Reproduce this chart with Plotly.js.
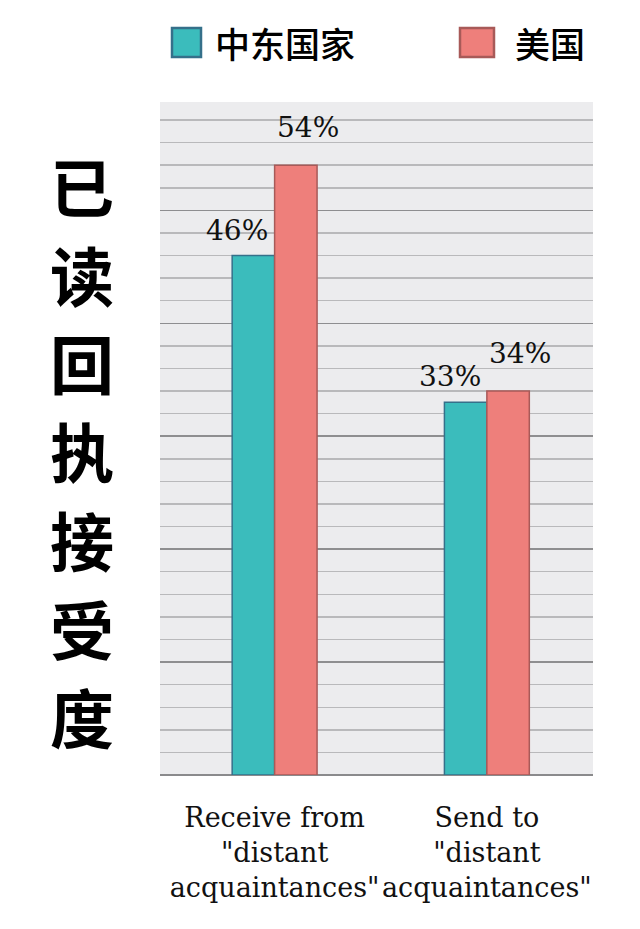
<!DOCTYPE html>
<html>
<head>
<meta charset="utf-8">
<script src="https://cdn.plot.ly/plotly-3.0.1.min.js"></script>
<style>
  html, body { margin: 0; padding: 0; background: #fff; }
  #chart { width: 640px; height: 929px; }
</style>
</head>
<body>
<div id="chart"></div>
<script>
// chart data
const categories = ['Receive from<br>"distant<br>acquaintances"', 'Send to<br>"distant<br>acquaintances"'];
const seriesNames = ['中东国家', '美国'];
const middleEast = [46, 33];
const usa = [54, 34];
const yTitle = ['已', '读', '回', '执', '接', '受', '度'];

const colors = ['#3bbcbc', '#ee7f7b'];
const borders = ['#35708a', '#a85a58'];

// plot box in pixels, used to place legend / title pieces in paper coords
const W = 640, H = 929;
const M = { l: 160, r: 47, t: 102, b: 154 };
const pw = W - M.l - M.r, ph = H - M.t - M.b;
const px = x => (x - M.l) / pw;
const py = y => (H - M.b - y) / ph;

const traces = [
  {
    x: [0, 1], y: middleEast, type: 'bar', name: seriesNames[0],
    marker: { color: colors[0], line: { color: borders[0], width: 1.5 } },
    hoverinfo: 'skip'
  },
  {
    x: [0, 1], y: usa, type: 'bar', name: seriesNames[1],
    marker: { color: colors[1], line: { color: borders[1], width: 1.5 } },
    hoverinfo: 'skip'
  }
];

const labelFont = { family: 'DejaVu Serif, serif', size: 28, color: '#111' };
const annotations = [];
[middleEast, usa].forEach((vals, s) => {
  vals.forEach((v, i) => {
    annotations.push({
      x: i + (s === 0 ? -0.1 : 0.1), y: v, xref: 'x', yref: 'y',
      text: v + '%', showarrow: false, yanchor: 'bottom',
      xshift: s === 0 ? -16 : 12, yshift: s === 0 ? 7 : 19,
      font: labelFont
    });
  });
});

// vertical y title, one character per line
yTitle.forEach((ch, i) => {
  annotations.push({
    xref: 'paper', yref: 'paper', x: px(82), y: py(184 + i * 88.5),
    text: ch, showarrow: false,
    xanchor: 'center', yanchor: 'middle',
    font: { family: 'Noto Sans CJK SC, sans-serif', size: 64, color: '#000', weight: 700 }
  });
});

// custom legend at top
const legendX = [[172, 201, 213], [460, 494, 513]];
const shapes = [];
seriesNames.forEach((name, s) => {
  const [x0, x1, tx] = legendX[s];
  shapes.push({
    type: 'rect', xref: 'paper', yref: 'paper',
    x0: px(x0), x1: px(x1), y0: py(57), y1: py(28),
    fillcolor: colors[s], line: { color: borders[s], width: 2.5 }
  });
  annotations.push({
    xref: 'paper', yref: 'paper', x: px(tx), y: py(42),
    text: name, showarrow: false, xanchor: 'left', yanchor: 'middle',
    font: { family: 'Noto Sans CJK SC, sans-serif', size: 35, color: '#000', weight: 500 }
  });
});

const layout = {
  width: W, height: H,
  margin: M,
  paper_bgcolor: '#ffffff',
  plot_bgcolor: '#ececee',
  showlegend: false,
  barmode: 'group',
  bargap: 0.6,
  bargroupgap: 0,
  xaxis: {
    range: [-0.54, 1.5],
    tickvals: [0, 1],
    ticktext: categories,
    tickangle: 0,
    ticks: '',
    ticklabelstandoff: 24,
    tickfont: { family: 'DejaVu Serif, serif', size: 27, color: '#111' },
    showgrid: false, zeroline: false, showline: false
  },
  yaxis: {
    range: [0, 59.6],
    dtick: 10,
    showticklabels: false,
    ticks: '',
    showgrid: true, gridcolor: '#8e8e90', gridwidth: 1.5,
    minor: { dtick: 2, showgrid: true, gridcolor: '#b9b9bb', gridwidth: 1.5 },
    zeroline: true, zerolinecolor: '#8a8a8c', zerolinewidth: 2,
    showline: false
  },
  annotations: annotations,
  shapes: shapes
};

Plotly.newPlot('chart', traces, layout, { displayModeBar: false, staticPlot: true });
</script>
</body>
</html>
